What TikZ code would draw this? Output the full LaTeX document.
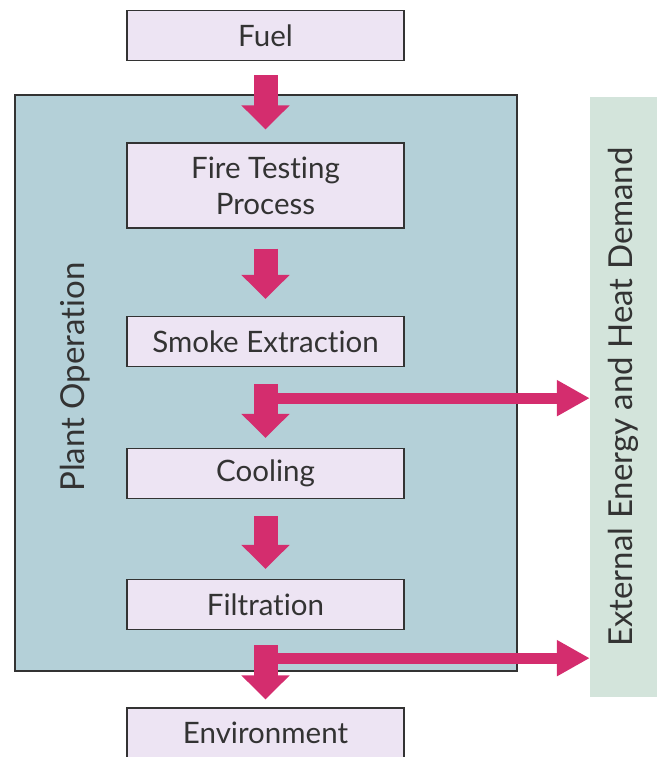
\documentclass[tikz,border=0pt]{standalone}
\usepackage{fontspec}
\setmainfont{Lato}[Ligatures=NoCommon]
\usetikzlibrary{arrows.meta,positioning,calc}
\definecolor{plantblue}{RGB}{180,208,216}
\definecolor{boxlilac}{RGB}{237,228,243}
\definecolor{extgreen}{RGB}{211,228,219}
\definecolor{flowpink}{RGB}{212,45,110}
\definecolor{edgegray}{RGB}{51,51,51}
\tikzset{
  stage/.style={draw=edgegray, fill=boxlilac, line width=1.3pt, minimum width=277pt,
                minimum height=50pt, align=center, text=edgegray, inner sep=2pt,
                font=\fontsize{29.5}{36}\selectfont},
  plantbox/.style={draw=edgegray, fill=plantblue, line width=1.3pt,
                   minimum width=502pt, minimum height=576pt},
  extbox/.style={fill=extgreen, minimum width=67pt, minimum height=600pt},
  sidelab/.style={rotate=90, text=edgegray, font=\fontsize{33}{40}\selectfont},
  flow/.style={-{Triangle[length=24pt, width=47pt]}, flowpink, line width=24pt},
  branch/.style={-{Triangle[length=33pt, width=34pt]}, flowpink, line width=11pt},
}

\begin{document}
\begin{tikzpicture}[x=1pt, y=-1pt]
    \useasboundingbox (0,0) rectangle (662,757);
    \node[plantbox] (plant) at (266,383) {};
    \node[extbox] (ext) at (623.5,397) {};
    \node[sidelab] (plantlab) at (75,377) {Plant Operation};
    \node[sidelab] (extlab) at (ext.center) {External Energy and Heat Demand};
    \node[stage] (fuel) at (265.5,35.5) {Fuel};
    \node[stage, minimum height=85pt] (fire) at (265.5,185.5) {Fire Testing\\Process};
    \node[stage] (smoke) at (265.5,341.5) {Smoke Extraction};
    \node[stage] (cool) at (265.5,473.5) {Cooling};
    \node[stage] (filt) at (265.5,604.5) {Filtration};
    \node[stage] (env) at (265.5,733) {Environment};
    \draw[flow] ([yshift=-14pt]fuel.south) -- ([yshift=13pt]fire.north);
    \draw[flow] ([yshift=-20pt]fire.south) -- ([yshift=17pt]smoke.north);
    \draw[flow] ([yshift=-17pt]smoke.south) -- ([yshift=10pt]cool.north);
    \draw[flow] ([yshift=-17pt]cool.south) -- ([yshift=10pt]filt.north);
    \draw[flow] ([yshift=-15pt]filt.south) -- ([yshift=8pt]env.north);
    \coordinate (tap1) at ([yshift=-31pt]smoke.south);
    \coordinate (tap2) at ([yshift=-28pt]filt.south);
    \draw[branch] (tap1) -- (tap1 -| ext.west);
    \draw[branch] (tap2) -- (tap2 -| ext.west);
\end{tikzpicture}
\end{document}
